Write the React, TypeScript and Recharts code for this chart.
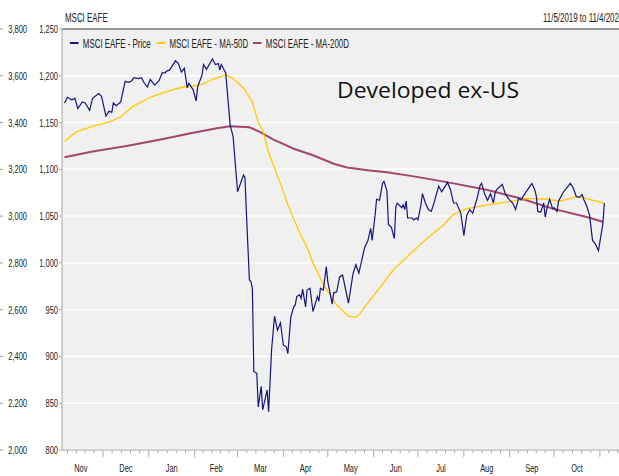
import React from 'react'
import { LineChart, Line, XAxis, YAxis, CartesianGrid, ReferenceLine } from 'recharts'

// x values are calendar days counted from 11/5/2019
const priceDays = [
  0, 2, 5, 7, 9, 12, 14, 17, 19, 23, 25, 28, 30, 32, 33, 35, 38, 41, 43, 45, 47, 50, 52, 54, 56, 58,
  61, 64, 66, 68, 69, 71, 75, 77, 79, 81, 83, 84, 87, 89, 90, 93, 94, 96, 100, 102, 104, 105, 106,
  109, 112, 114, 117, 121, 122, 123, 125, 126, 127, 128, 130, 131, 133, 134, 137, 138, 140, 142, 144,
  146, 148, 150, 151, 153, 155, 156, 157, 159, 160, 161, 163, 164, 166, 168, 171, 172, 173, 175, 177,
  178, 181, 182, 184, 186, 188, 192, 195, 197, 199, 201, 203, 205, 207, 208, 210, 211, 213, 215, 216,
  218, 219, 221, 223, 224, 225, 228, 229, 230, 231, 232, 235, 236, 238, 239, 241, 242, 244, 246, 248,
  250, 251, 253, 255, 257, 259, 261, 263, 265, 268, 270, 272, 274, 276, 278, 279, 281, 282, 284, 286,
  288, 290, 291, 292, 296, 298, 300, 303, 305, 307, 309, 310, 313, 316, 318, 319, 320, 322, 324, 325,
  326, 328, 330, 331, 333, 334, 337, 340, 342, 344, 346, 348, 350, 351, 353, 355, 357, 359, 361, 364,
  365,
]
const priceValues = [
  1171, 1177, 1174, 1176, 1165, 1172, 1171, 1163, 1176, 1181, 1178, 1157, 1162, 1161, 1171, 1168, 1172,
  1194, 1193, 1194, 1198, 1197, 1198, 1192, 1188, 1196, 1190, 1195, 1203, 1203, 1205, 1206, 1216, 1213,
  1204, 1208, 1187, 1192, 1185, 1173, 1188, 1201, 1212, 1207, 1218, 1212, 1213, 1206, 1212, 1203, 1147,
  1135, 1076, 1094, 1091, 1053, 982, 980, 973, 884, 882, 846, 868, 843, 864, 841, 907, 943, 928, 936,
  912, 910, 903, 942, 953, 955, 964, 966, 962, 972, 953, 971, 973, 948, 964, 959, 973, 971, 996, 980,
  956, 968, 969, 985, 987, 957, 988, 998, 989, 1003, 1017, 1023, 1037, 1024, 1051, 1068, 1067, 1085,
  1087, 1077, 1041, 1038, 1026, 1060, 1064, 1059, 1062, 1057, 1066, 1048, 1048, 1046, 1048, 1046, 1062,
  1074, 1064, 1057, 1055, 1065, 1071, 1082, 1076, 1081, 1086, 1078, 1064, 1064, 1053, 1029, 1051, 1057,
  1053, 1064, 1069, 1083, 1085, 1074, 1067, 1074, 1064, 1074, 1078, 1084, 1074, 1069, 1064, 1057, 1069,
  1067, 1071, 1078, 1085, 1078, 1071, 1055, 1054, 1064, 1049, 1057, 1068, 1058, 1059, 1055, 1066, 1075,
  1081, 1085, 1080, 1071, 1070, 1073, 1068, 1061, 1051, 1024, 1020, 1013, 1042, 1064,
]

const ma50Days = [
  0, 8, 19, 31, 38, 46, 58, 69, 80, 92, 100, 109, 114, 121, 127, 131, 134, 138, 146, 151, 159, 164,
  168, 175, 184, 192, 197, 200, 203, 212, 222, 234, 245, 256, 263, 272, 286, 299, 313, 326, 335, 347,
  355, 365,
]
const ma50Values = [
  1130, 1140, 1146, 1151, 1156, 1167, 1177, 1183, 1188, 1190, 1196, 1201, 1197, 1187, 1172, 1150, 1142,
  1118, 1085, 1062, 1032, 1017, 1000, 977, 955, 943, 942, 946, 953, 971, 992, 1010, 1026, 1040, 1052,
  1058, 1062, 1065, 1069, 1068, 1066, 1071, 1068, 1064,
]

const ma200Days = [
  0, 19, 42, 65, 87, 103, 112, 125, 132, 141, 155, 168, 182, 191, 200, 205, 218, 234, 249, 263, 286,
  308, 330, 353, 364,
]
const ma200Values = [
  1113, 1119, 1125, 1132, 1139, 1144, 1146, 1145, 1140, 1132, 1122, 1115, 1106, 1102, 1100, 1099, 1097,
  1093, 1089, 1085, 1078, 1069, 1058, 1049, 1044,
]

const priceTicks = [800, 850, 900, 950, 1000, 1050, 1100, 1150, 1200, 1250]
// second scale printed to the left of the price scale, one label per price tick
const altTicks = [2000, 2200, 2400, 2600, 2800, 3000, 3200, 3400, 3600, 3800]

const monthNames = ['Nov', 'Dec', 'Jan', 'Feb', 'Mar', 'Apr', 'May', 'Jun', 'Jul', 'Aug', 'Sep', 'Oct']
// first day of each month, Nov 2019 .. Dec 2020 (days since 11/5/2019)
const monthStarts = [-4, 26, 57, 88, 117, 148, 178, 209, 239, 270, 301, 331, 362, 392]

const xDomain = [-1.7, 374.9]

const SERIES = [
  { key: 'price', name: 'MSCI EAFE - Price', color: '#16167e', width: 1.2 },
  { key: 'ma50', name: 'MSCI EAFE - MA-50D', color: '#ffc800', width: 1.3 },
  { key: 'ma200', name: 'MSCI EAFE - MA-200D', color: '#a4456f', width: 2 },
]

const toPoints = (days: number[], values: number[]) =>
  days.map((day, i) => ({ day, value: values[i] }))

const priceData = toPoints(priceDays, priceValues)
const ma50Data = toPoints(ma50Days, ma50Values)
const ma200Data = toPoints(ma200Days, ma200Values)

const labelAt = new Map<number, string>()
monthNames.forEach((m, i) => labelAt.set((monthStarts[i] + monthStarts[i + 1]) / 2, m))
const majorTicks = monthStarts.slice(0, 13)
const minorTicks: number[] = []
majorTicks.forEach((s, i) => {
  const len = monthStarts[i + 1] - s
  for (let k = 1; k < 5; k++) {
    const t = s + (len * k) / 5
    if (t > xDomain[0] && t < xDomain[1]) minorTicks.push(t)
  }
})
const xTicks = [...majorTicks.filter((t) => t > xDomain[0]), ...minorTicks, ...labelAt.keys()].sort((a, b) => a - b)

const FONT = '"Liberation Sans", Arial, sans-serif'
const fmt = (v: number) => v.toLocaleString('en-US')

function Narrow({ x, y, anchor = 'start', size = 11, sx = 0.68, children }: any) {
  return (
    <text
      transform={`translate(${x},${y}) scale(${sx},1)`}
      textAnchor={anchor}
      fontSize={size}
      fontFamily={FONT}
      fill="#222"
    >
      {children}
    </text>
  )
}

const PriceTick = ({ x, y, payload, index }: any) => {
  const alt = altTicks[priceTicks.indexOf(payload.value)] ?? altTicks[index]
  return (
    <g>
      <Narrow x={x} y={y + 4} anchor="end">{fmt(payload.value)}</Narrow>
      <line x1={0} x2={3} y1={y} y2={y} stroke="#999" />
      <Narrow x={27} y={y + 4} anchor="end">{fmt(alt)}</Narrow>
    </g>
  )
}

const MonthTick = ({ x, y, payload }: any) => {
  const v = payload.value
  const label = labelAt.get(v)
  if (label) return <Narrow x={x} y={y + 22} anchor="middle">{label}</Narrow>
  const major = majorTicks.includes(v)
  return <line x1={x} x2={x} y1={y} y2={y + (major ? 7 : 3)} stroke="#aaa" />
}

export default function App() {
  return (
    <div style={{ position: 'absolute', left: 0, top: 0, width: 619, height: 476, overflow: 'hidden', background: '#fff' }}>
      <LineChart width={619} height={476} margin={{ top: 29, right: 0, bottom: 0, left: 0 }}>
        <CartesianGrid fill="#f0f0f0" stroke="#ffffff" strokeWidth={1.5} vertical={false} />
        <XAxis
          dataKey="day"
          type="number"
          domain={xDomain}
          allowDataOverflow
          ticks={xTicks}
          interval={0}
          tick={<MonthTick />}
          tickLine={false}
          tickSize={0}
          tickMargin={0}
          height={26}
          stroke="#a8a8a8"
        />
        <YAxis
          type="number"
          domain={[800, 1250]}
          ticks={priceTicks}
          interval={0}
          width={62}
          tickSize={3}
          tickMargin={1}
          tick={<PriceTick />}
          stroke="#a8a8a8"
        />
        <ReferenceLine y={1250} stroke="#333" strokeWidth={1.2} />
        <Line data={ma200Data} dataKey="value" stroke={SERIES[2].color} strokeWidth={SERIES[2].width} dot={false} isAnimationActive={false} />
        <Line data={ma50Data} dataKey="value" stroke={SERIES[1].color} strokeWidth={SERIES[1].width} dot={false} isAnimationActive={false} />
        <Line data={priceData} dataKey="value" stroke={SERIES[0].color} strokeWidth={SERIES[0].width} dot={false} isAnimationActive={false} />
      </LineChart>
      <svg width={619} height={476} style={{ position: 'absolute', left: 0, top: 0, pointerEvents: 'none' }}>
        <Narrow x={65} y={22} size={13} sx={0.61}>MSCI EAFE</Narrow>
        <Narrow x={543} y={22} size={13} sx={0.61}>11/5/2019 to 11/4/2020</Narrow>
        <g transform="translate(70,43) scale(0.61,1)">
          {SERIES.map((s, i) => {
            const left = [0, 142, 300][i]
            return (
              <g key={s.key}>
                <line x1={left} x2={left + 14} y1={0} y2={0} stroke={s.color} strokeWidth={2} />
                <text x={left + 21} y={4.5} fontSize={13} fontFamily={FONT} fill="#222">{s.name}</text>
              </g>
            )
          })}
        </g>
        <text x={337} y={98} fontSize={22} fontFamily='"Open Sans", sans-serif' fill="#111" textLength={182} lengthAdjust="spacingAndGlyphs">
          Developed ex-US
        </text>
      </svg>
    </div>
  )
}
